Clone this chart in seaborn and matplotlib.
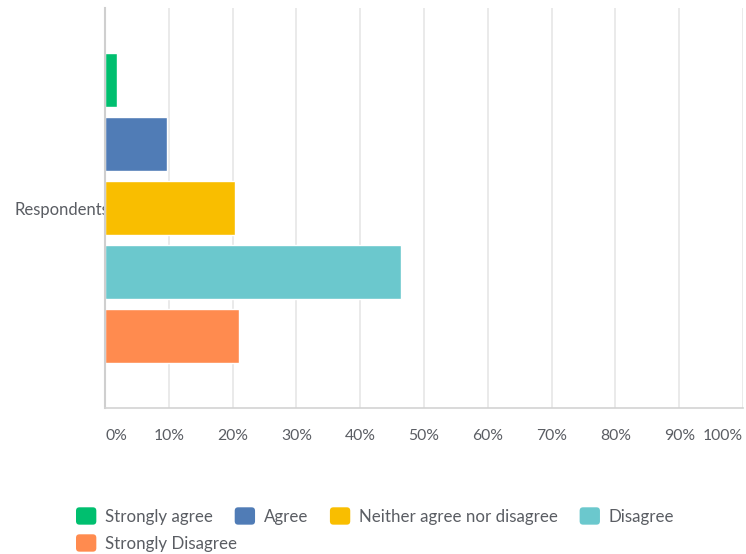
import matplotlib
matplotlib.use("Agg")
import matplotlib.pyplot as plt
import seaborn as sns
import pandas as pd
from matplotlib.patches import FancyBboxPatch
from matplotlib.legend_handler import HandlerPatch

# ---- data ----
group = "Respondents"
answers = ["Strongly agree", "Agree", "Neither agree nor disagree", "Disagree", "Strongly Disagree"]
percent = [1.93, 9.7, 20.4, 46.4, 21.0]
colors = ["#00bf6f", "#507cb6", "#f9be00", "#6bc8cd", "#ff8b4f"]
tick_values = [0, 10, 20, 30, 40, 50, 60, 70, 80, 90, 100]
tick_labels = [f"{v}%" for v in tick_values]

df = pd.DataFrame({"group": [group] * len(answers), "answer": answers, "pct": percent})

sns.set_theme(style="white")
plt.rcParams["font.family"] = ["Lato", "DejaVu Sans"]
text_color = "#5a5d63"

fig = plt.figure(figsize=(7.46, 5.54), dpi=100)
W, H = 746, 554
ax = fig.add_axes([105 / W, (H - 408) / H, 638 / W, 400 / H])

sns.barplot(data=df, y="group", x="pct", hue="answer", hue_order=answers,
            palette=colors, saturation=1, orient="h", width=0.8, gap=0.17,
            edgecolor="white", linewidth=1.0, ax=ax)

handles, labels = ax.get_legend_handles_labels()
if ax.get_legend() is not None:
    ax.get_legend().remove()

ax.set_xlim(0, 100)
ax.set_xticks(tick_values)
ax.set_xticklabels(tick_labels)
ax.tick_params(axis="x", length=0, pad=15, labelsize=11.3, labelcolor=text_color)
xl = ax.get_xticklabels()
xl[0].set_horizontalalignment("left")
xl[-1].set_horizontalalignment("right")
ax.grid(axis="x", color="#e6e6e6", linewidth=1.2)
ax.set_axisbelow(True)
ax.set_xlabel("")
ax.set_ylabel("")
ax.tick_params(axis="y", length=0, pad=-3, labelsize=12, labelcolor=text_color)
for s in ["top", "right"]:
    ax.spines[s].set_visible(False)
ax.spines["left"].set_color("#cfcfcf")
ax.spines["left"].set_linewidth(1.5)
ax.spines["bottom"].set_color("#d3d3d3")
ax.spines["bottom"].set_linewidth(1.2)


class RoundHandler(HandlerPatch):
    def create_artists(self, legend, orig_handle, xdescent, ydescent, width, height, fontsize, trans):
        p = FancyBboxPatch((-xdescent, -ydescent), width, height,
                           boxstyle="round,pad=0,rounding_size=2.5",
                           facecolor=orig_handle.get_facecolor(), edgecolor="none",
                           transform=trans)
        return [p]


leg_kw = dict(frameon=False, fontsize=12.2, handlelength=1.2, handleheight=1.2,
              handletextpad=0.5, columnspacing=1.3, labelcolor=text_color,
              borderpad=0, borderaxespad=0,
              handler_map={h: RoundHandler() for h in handles})
leg1 = fig.legend(handles[:4], labels[:4], ncol=4, loc="center left",
                  bbox_to_anchor=(76 / W, 1 - 516 / H), **leg_kw)
leg2 = fig.legend(handles[4:], labels[4:], ncol=1, loc="center left",
                  bbox_to_anchor=(76 / W, 1 - 543 / H), **leg_kw)

fig.savefig("out.png", dpi=100)
